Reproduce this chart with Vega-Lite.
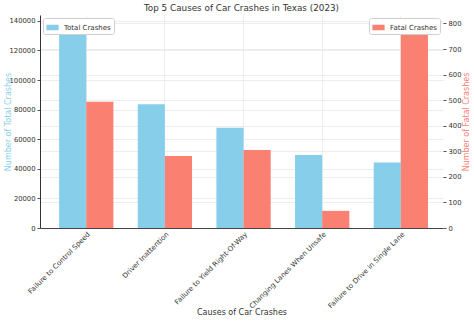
{
  "$schema": "https://vega.github.io/schema/vega-lite/v6.json",
  "width": 403,
  "height": 213,
  "autosize": {"type": "none"},
  "padding": {"left": 40, "top": 15, "right": 31, "bottom": 96},
  "background": "white",
  "title": {
    "text": "Top 5 Causes of Car Crashes in Texas (2023)",
    "fontSize": 8.8,
    "font": "DejaVu Sans",
    "fontWeight": "normal",
    "color": "#333333",
    "offset": 2,
    "anchor": "middle"
  },
  "config": {
    "font": "DejaVu Sans",
    "view": {"stroke": null},
    "axis": {
      "labelFont": "DejaVu Sans",
      "titleFont": "DejaVu Sans",
      "labelFontSize": 6.8,
      "labelColor": "#333333",
      "titleFontSize": 8,
      "titleFontWeight": "normal",
      "tickColor": "#555555",
      "tickSize": 3,
      "gridColor": "#e8e8e8",
      "gridWidth": 0.8,
      "domainColor": "#333333"
    },
    "legend": {
      "labelFont": "DejaVu Sans",
      "labelFontSize": 7,
      "labelColor": "#333333",
      "fillColor": "white",
      "strokeColor": "#d0d0d0",
      "cornerRadius": 2,
      "padding": 3,
      "symbolType": "M-1,-0.45H1V0.45H-1Z",
      "symbolSize": 150,
      "symbolStrokeWidth": 0,
      "symbolOpacity": 1,
      "labelOffset": 5
    }
  },
  "data": {
    "values": [
      {"cause": "Failure to Control Speed", "series": "Total Crashes", "value": 133200},
      {"cause": "Driver Inattention", "series": "Total Crashes", "value": 83600},
      {"cause": "Failure to Yield Right-Of-Way", "series": "Total Crashes", "value": 67800},
      {"cause": "Changing Lanes When Unsafe", "series": "Total Crashes", "value": 49400},
      {"cause": "Failure to Drive in Single Lane", "series": "Total Crashes", "value": 44200},
      {"cause": "Failure to Control Speed", "series": "Fatal Crashes", "value": 494},
      {"cause": "Driver Inattention", "series": "Fatal Crashes", "value": 282},
      {"cause": "Failure to Yield Right-Of-Way", "series": "Fatal Crashes", "value": 305},
      {"cause": "Changing Lanes When Unsafe", "series": "Fatal Crashes", "value": 67},
      {"cause": "Failure to Drive in Single Lane", "series": "Fatal Crashes", "value": 770}
    ]
  },
  "encoding": {
    "x": {
      "field": "cause",
      "type": "nominal",
      "sort": ["Failure to Control Speed", "Driver Inattention", "Failure to Yield Right-Of-Way", "Changing Lanes When Unsafe", "Failure to Drive in Single Lane"],
      "scale": {"paddingInner": 0.31, "paddingOuter": 0.217, "align": 0.56},
      "axis": {
        "labelAngle": -45,
        "labelFontSize": 7,
        "ticks": false,
        "labelPadding": 2,
        "title": "Causes of Car Crashes",
        "titleColor": "#333333",
        "titleY": 84,
        "titleBaseline": "middle",
        "grid": true,
        "domainColor": "#444444"
      }
    },
    "xOffset": {
      "field": "series",
      "type": "nominal",
      "scale": {"domain": ["Total Crashes", "Fatal Crashes"], "paddingInner": 0, "paddingOuter": 0}
    }
  },
  "layer": [
    {
      "transform": [{"filter": {"field": "series", "equal": "Total Crashes"}}],
      "mark": {"type": "bar"},
      "encoding": {
        "y": {
          "field": "value",
          "type": "quantitative",
          "scale": {"domain": [0, 144000], "nice": false, "zero": true},
          "axis": {
            "orient": "left",
            "title": "Number of Total Crashes",
            "titleColor": "#87CEEB",
            "titleX": -32,
            "titleBaseline": "middle",
            "values": [0, 20000, 40000, 60000, 80000, 100000, 120000, 140000],
            "format": "d",
            "grid": true
          }
        },
        "color": {
          "field": "series",
          "type": "nominal",
          "scale": {"domain": ["Total Crashes"], "range": ["#87CEEB"]},
          "legend": {"orient": "top-left", "title": null, "offset": 3}
        }
      }
    },
    {
      "transform": [{"filter": {"field": "series", "equal": "Fatal Crashes"}}],
      "mark": {"type": "bar"},
      "encoding": {
        "y": {
          "field": "value",
          "type": "quantitative",
          "scale": {"domain": [0, 833], "nice": false, "zero": true},
          "axis": {
            "orient": "right",
            "title": "Number of Fatal Crashes",
            "titleColor": "#FA8072",
            "titleAngle": 270,
            "titleX": 23,
            "titleBaseline": "middle",
            "values": [0, 100, 200, 300, 400, 500, 600, 700, 800],
            "format": "d",
            "grid": true,
            "domain": false
          }
        },
        "color": {
          "field": "series",
          "type": "nominal",
          "scale": {"domain": ["Fatal Crashes"], "range": ["#FA8072"]},
          "legend": {"orient": "top-right", "title": null, "offset": 3}
        }
      }
    }
  ],
  "resolve": {"scale": {"y": "independent", "color": "independent"}}
}
